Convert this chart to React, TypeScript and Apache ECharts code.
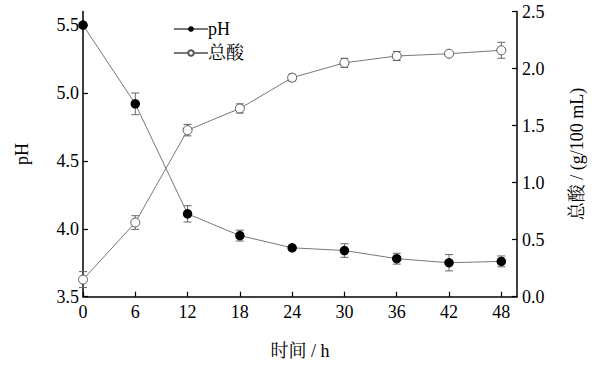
import React, { useEffect, useRef } from "react";
import * as echarts from "echarts";

const hours = [0, 6, 12, 18, 24, 30, 36, 42, 48];
const phValues = [5.5, 4.92, 4.11, 3.95, 3.86, 3.84, 3.78, 3.75, 3.76];
const phErrors = [0.01, 0.08, 0.06, 0.04, 0.01, 0.05, 0.04, 0.06, 0.04];
const acidValues = [0.15, 0.65, 1.46, 1.65, 1.92, 2.05, 2.11, 2.13, 2.16];
const acidErrors = [0.07, 0.06, 0.05, 0.04, 0.03, 0.04, 0.04, 0.02, 0.07];
const xTicks = [0, 6, 12, 18, 24, 30, 36, 42, 48];
const phTicks = [3.5, 4.0, 4.5, 5.0, 5.5];
const acidTicks = [0.0, 0.5, 1.0, 1.5, 2.0, 2.5];

const FONT = "'Liberation Serif', 'Noto Serif CJK SC', 'Noto Sans CJK SC', serif";

function errorSeries(values: number[], errs: number[], yAxisIndex: number) {
  return {
    type: "custom",
    yAxisIndex,
    silent: true,
    z: 1,
    encode: { x: 0, y: [1, 2] },
    data: hours.map((h, i) => [h, values[i] - errs[i], values[i] + errs[i]]),
    renderItem: (params: any, api: any) => {
      const x = api.value(0);
      const lo = api.coord([x, api.value(1)]);
      const hi = api.coord([x, api.value(2)]);
      const w = 4;
      const style = { stroke: "#666", lineWidth: 1 };
      return {
        type: "group",
        children: [
          { type: "line", shape: { x1: lo[0], y1: lo[1], x2: hi[0], y2: hi[1] }, style },
          { type: "line", shape: { x1: lo[0] - w, y1: lo[1], x2: lo[0] + w, y2: lo[1] }, style },
          { type: "line", shape: { x1: hi[0] - w, y1: hi[1], x2: hi[0] + w, y2: hi[1] }, style },
        ],
      };
    },
  };
}

export default function App() {
  const ref = useRef<HTMLDivElement>(null);
  useEffect(() => {
    if (!ref.current) return;
    const chart = echarts.init(ref.current, null, { renderer: "svg" });
    const axisLine = { show: true, lineStyle: { color: "#000", width: 1.5 } };
    const axisTickBase = { show: true, inside: true, length: 5, lineStyle: { color: "#000", width: 1.2 } };
    chart.setOption({
      animation: false,
      backgroundColor: "#fff",
      textStyle: { fontFamily: FONT },
      grid: { left: 83, right: 83, top: 11.5, bottom: 70.3 },
      legend: {
        orient: "vertical",
        left: 168,
        top: 15,
        itemWidth: 34,
        itemHeight: 7,
        itemGap: 6,
        data: ["pH", "总酸"],
        textStyle: { fontFamily: FONT, fontSize: 18, color: "#000", padding: [0, 0, 0, -5] },
      },
      xAxis: {
        type: "value",
        min: 0,
        max: 49.8,
        name: "时间 / h",
        nameLocation: "middle",
        nameGap: 45,
        nameTextStyle: { fontFamily: FONT, fontSize: 18, color: "#000" },
        axisLine,
        axisTick: { ...axisTickBase, customValues: xTicks },
        axisLabel: { customValues: xTicks, fontFamily: FONT, fontSize: 18, color: "#000", margin: 6 },
        splitLine: { show: false },
      },
      yAxis: [
        {
          type: "value",
          min: 3.5,
          max: 5.6,
          position: "left",
          name: "pH",
          nameLocation: "middle",
          nameRotate: 90,
          nameGap: 52,
          nameTextStyle: { fontFamily: FONT, fontSize: 18, color: "#000" },
          axisLine,
          axisTick: { ...axisTickBase, customValues: phTicks },
          axisLabel: {
            customValues: phTicks,
            formatter: (v: number) => v.toFixed(1),
            fontFamily: FONT,
            fontSize: 18,
            color: "#000",
            margin: 4,
          },
          splitLine: { show: false },
        },
        {
          type: "value",
          min: 0,
          max: 2.5,
          position: "right",
          name: "总酸 / (g/100 mL)",
          nameLocation: "middle",
          nameRotate: 90,
          nameGap: 51,
          nameTextStyle: { fontFamily: FONT, fontSize: 18, color: "#000" },
          axisLine,
          axisTick: { ...axisTickBase, customValues: acidTicks },
          axisLabel: {
            customValues: acidTicks,
            formatter: (v: number) => v.toFixed(1),
            fontFamily: FONT,
            fontSize: 18,
            color: "#000",
            margin: 5,
          },
          splitLine: { show: false },
        },
      ],
      series: [
        errorSeries(phValues, phErrors, 0),
        errorSeries(acidValues, acidErrors, 1),
        {
          name: "pH",
          type: "line",
          yAxisIndex: 0,
          z: 3,
          data: hours.map((h, i) => [h, phValues[i]]),
          symbol: "circle",
          symbolSize: 9.5,
          itemStyle: { color: "#000", borderColor: "#000", borderWidth: 0 },
          lineStyle: { color: "#777", width: 1 },
        },
        {
          name: "总酸",
          type: "line",
          yAxisIndex: 1,
          z: 3,
          data: hours.map((h, i) => [h, acidValues[i]]),
          symbol: "circle",
          symbolSize: 9,
          itemStyle: { color: "#fff", borderColor: "#555", borderWidth: 1 },
          lineStyle: { color: "#777", width: 1 },
        },
      ],
    });
    return () => chart.dispose();
  }, []);
  return <div ref={ref} style={{ width: 600, height: 367, position: "absolute", left: 0, top: 0 }} />;
}
